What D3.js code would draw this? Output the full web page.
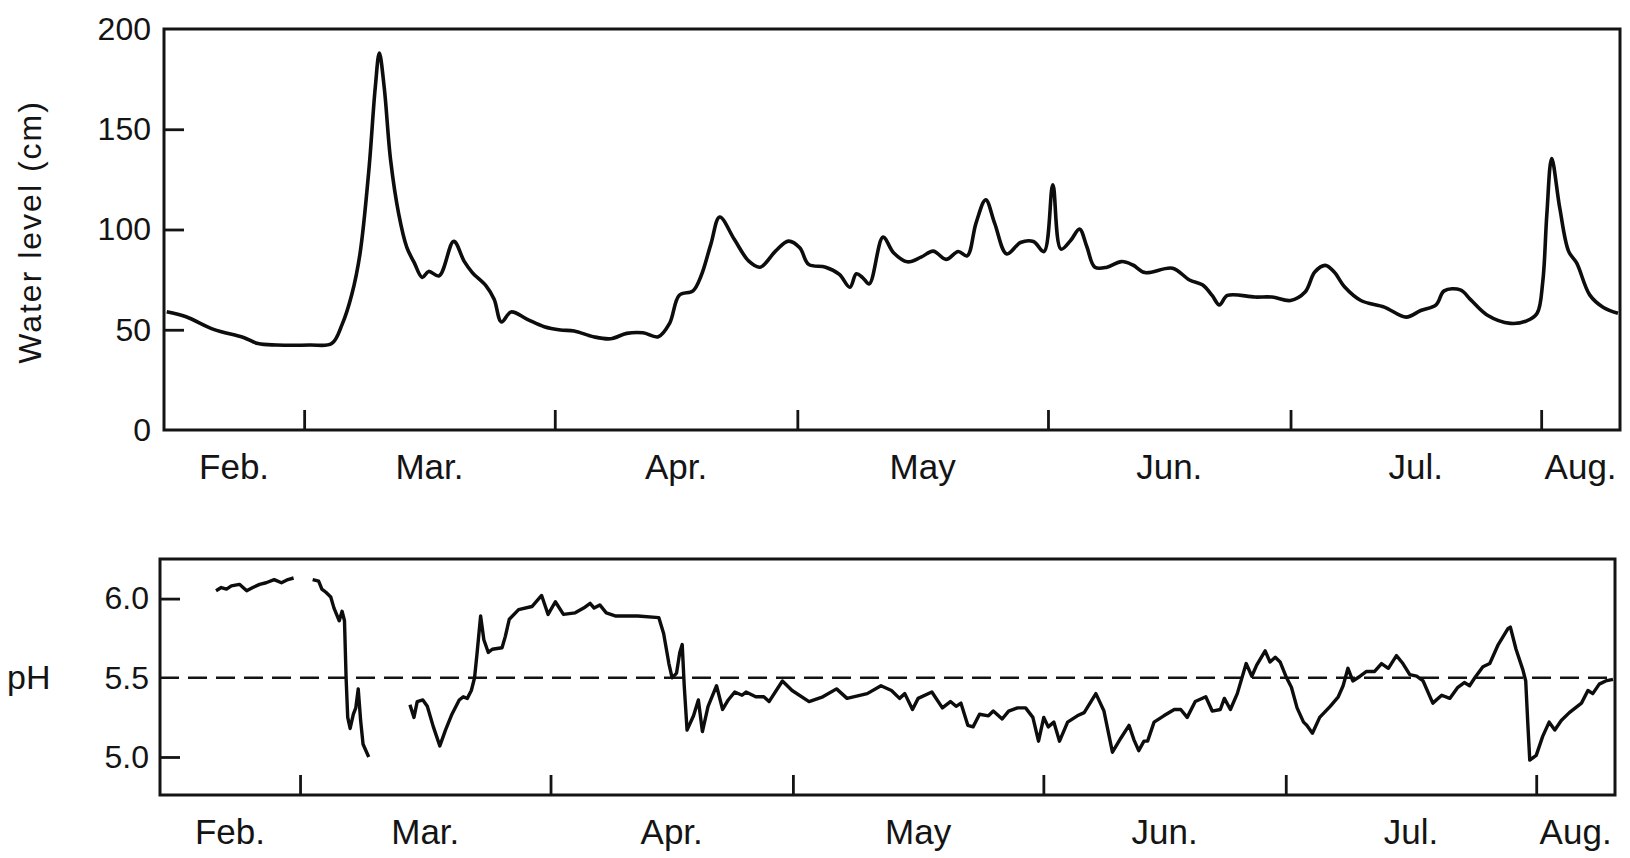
<!DOCTYPE html>
<html>
<head>
<meta charset="utf-8">
<script src="https://cdn.jsdelivr.net/npm/d3@7"></script>
<style>
  body { margin: 0; background: #fff; }
  svg { display: block; }
  text { font-family: "Liberation Sans", Arial, Helvetica, sans-serif; fill: #141414; }
</style>
</head>
<body>
<div id="chart"></div>
<script>
// day of year (1979) -> value
const levelData = [
  [43,59],[45.4,56.5],[48.8,50.2],[52.5,46.1],[54.3,43.1],[56.6,42.4],[60.7,42.4],[63.4,43.1],
  [64.7,52.7],[65.9,67.7],[66.9,87.7],[68.0,129.4],[68.8,171],[69.3,188],[69.9,171],[70.7,134.4],
  [71.7,107.7],[72.7,91.1],[73.6,83.6],[74.6,76.1],[75.4,79.1],[76.7,76.9],[78.5,94.1],[79.8,84.1],
  [80.8,78.5],[82.5,71.9],[83.5,65.2],[84.4,53.9],[85.6,58.9],[87.6,55.2],[89.7,51.5],[91.7,49.9],
  [93.4,49.4],[95.8,46.5],[97.9,45.5],[99.9,48.2],[101.9,48.5],[103.8,46.5],[105.2,53.2],[106.4,67.2],
  [108.1,69.4],[109.1,76.9],[110.3,92.6],[111.4,106.2],[113.2,95.1],[115,84.2],[116.4,81.2],[118.3,89.2],
  [119.9,94.2],[121.3,90.9],[122.4,82.6],[124.5,81.2],[126.2,77.6],[127.5,71.2],[128.3,77.9],[129.1,75.9],
  [129.9,72.9],[131.6,96.2],[132.9,88.4],[134.6,83.9],[136.3,86.2],[137.8,89.2],[139.4,85.1],[140.9,89],
  [142,86.8],[143.1,103.2],[144.3,114.8],[145.4,103.2],[146.9,87.8],[148.6,93.5],[150.2,94],[151.5,89],
  [152.6,122.3],[153.6,90.2],[154.8,94.5],[155.9,100.2],[156.8,91.5],[157.8,81.2],[159.3,81.2],[161.1,84],
  [162.5,82.3],[164,78.5],[167.4,80.7],[169.5,74.8],[171.1,72.4],[172.3,67.1],[173.2,62.4],[174.2,67.1],
  [177.6,66.3],[179.7,66.3],[182,64.6],[183.8,68.8],[185,78.8],[186.3,82.1],[187.4,78.8],[188.7,71.3],
  [190.7,64.6],[193.6,61.3],[196.3,56.3],[198.1,59.6],[200,62.4],[201,69.4],[203,69.9],[204.3,64.9],
  [206.3,57.4],[209.2,53.2],[211.2,54.4],[212.5,58.2],[213.2,74.1],[213.7,107.4],[214.3,135.4],[215.3,110.7],
  [216.4,89.1],[217.4,83.2],[219,67.4],[220.7,61.1],[222.5,58.2]
];

// pH record, null = gap in the record
const phData = [
  [49.6,6.05],[50.25,6.07],[50.9,6.06],[51.5,6.08],[52.5,6.09],[53.4,6.05],[54.15,6.07],[55,6.09],
  [55.8,6.10],[56.8,6.12],[57.7,6.10],[58.5,6.12],[59.2,6.13],
  [60.4,null],
  [61.56,6.12],[62.3,6.11],[62.7,6.06],[63.2,6.04],[63.8,6.01],[64.2,5.94],[64.85,5.86],[65.2,5.92],
  [65.5,5.86],[65.7,5.50],[65.9,5.25],[66.2,5.18],[66.6,5.27],[66.9,5.31],[67.2,5.43],[67.5,5.23],
  [67.8,5.08],[68.5,5.00],
  [71,null],
  [73.6,5.33],[74.1,5.25],[74.5,5.35],[75.2,5.36],[75.75,5.32],[76.5,5.19],[77.3,5.07],[78,5.17],
  [78.8,5.27],[79.7,5.36],[80.2,5.38],[80.7,5.37],[81.2,5.42],[81.6,5.50],[81.9,5.65],[82.35,5.89],
  [82.75,5.74],[83.3,5.66],[83.8,5.68],[85,5.69],[85.4,5.76],[85.9,5.87],[87.05,5.93],[88.7,5.95],
  [89.9,6.02],[90.7,5.90],[91.6,5.98],[92.6,5.90],[94.05,5.91],[95.1,5.94],[95.9,5.97],[96.4,5.94],
  [97.1,5.96],[97.9,5.91],[99.1,5.89],[101.8,5.89],[104.4,5.88],[105.0,5.78],[105.65,5.59],[106.05,5.50],
  [106.6,5.53],[107.0,5.66],[107.3,5.71],[107.55,5.45],[107.9,5.17],[108.7,5.26],[109.3,5.36],[109.8,5.16],
  [110.5,5.32],[111.55,5.45],[112.3,5.30],[113.0,5.36],[113.8,5.41],[114.7,5.39],[115.2,5.41],[116.4,5.38],
  [117.4,5.38],[118.05,5.35],[119.7,5.48],[120.9,5.42],[123.0,5.35],[124.7,5.38],[126.4,5.43],[127.7,5.37],
  [130.2,5.40],[131.9,5.45],[133.2,5.42],[134.2,5.37],[134.85,5.40],[135.8,5.30],[136.5,5.37],[138.2,5.41],
  [139.5,5.31],[140.5,5.35],[141.2,5.32],[141.8,5.34],[142.65,5.20],[143.3,5.19],[144.1,5.27],[145.2,5.26],
  [145.8,5.29],[146.9,5.24],[147.7,5.29],[148.8,5.31],[149.8,5.31],[150.7,5.25],[151.4,5.10],[152.05,5.25],
  [152.6,5.19],[153.3,5.22],[154.0,5.10],[155.0,5.22],[156.2,5.26],[157.05,5.28],[158.5,5.40],[159.5,5.29],
  [160.55,5.03],[161.6,5.12],[162.6,5.20],[163.2,5.11],[163.8,5.04],[164.45,5.10],[164.9,5.10],[165.7,5.22],
  [166.9,5.26],[168.2,5.30],[169.0,5.30],[169.8,5.25],[170.8,5.35],[172.1,5.38],[172.9,5.29],[173.9,5.30],
  [174.4,5.37],[175.15,5.30],[176.0,5.40],[177.1,5.59],[177.8,5.51],[178.4,5.58],[179.45,5.67],[180.05,5.60],
  [180.7,5.63],[181.3,5.60],[182.1,5.50],[182.7,5.44],[183.4,5.31],[184.2,5.22],[184.6,5.20],[185.3,5.15],
  [186.2,5.25],[187.5,5.32],[188.5,5.38],[189.1,5.45],[189.7,5.56],[190.3,5.48],[191.2,5.51],[192.0,5.54],
  [193.0,5.54],[193.85,5.59],[194.7,5.56],[195.7,5.64],[196.5,5.59],[197.35,5.52],[198.2,5.51],[199.0,5.48],
  [200.2,5.34],[201.3,5.39],[202.3,5.37],[203.3,5.44],[204.1,5.47],[204.75,5.45],[205.4,5.50],[206.4,5.57],
  [207.25,5.59],[208.3,5.71],[209.5,5.81],[209.8,5.82],[210.5,5.68],[211.35,5.55],[211.7,5.48],[211.95,5.22],
  [212.2,4.98],[213.0,5.01],[213.8,5.13],[214.6,5.22],[215.3,5.17],[216.1,5.23],[217.1,5.28],[218.6,5.34],
  [219.4,5.42],[220.0,5.40],[220.8,5.46],[221.6,5.48],[222.5,5.49]
];

const monthLabels = ['Feb.', 'Mar.', 'Apr.', 'May', 'Jun.', 'Jul.', 'Aug.'];
const levelTicks = [0, 50, 100, 150, 200];
const phTicks = [5.0, 5.5, 6.0];
const phReference = 5.5;

const year_start = new Date(1979, 0, 1);
const toDate = doy => new Date(year_start.getTime() + (doy - 1) * 864e5);
const date_domain = [new Date(1979, 1, 11, 16), new Date(1979, 7, 10, 18)];
const month_starts = d3.range(2, 8).map(m => new Date(1979, m, 1));
const month_bounds = [date_domain[0], ...month_starts, date_domain[1]];

const W = 1630, H = 858;
const ink = '#141414';
const svg = d3.select('#chart').append('svg').attr('width', W).attr('height', H);

function drawPanel(opts){
  const xScale = d3.scaleTime(date_domain, [opts.left, opts.right]);
  const yScale = d3.scaleLinear(opts.yDomain, [opts.bottom, opts.top]);
  const g = svg.append('g');

  // y labels (outside, no tick)
  g.append('g').attr('transform', `translate(${opts.left},0)`)
    .call(d3.axisLeft(yScale).tickValues(opts.labels).tickSize(0).tickPadding(opts.labelPad).tickFormat(opts.fmt))
    .call(a => a.select('.domain').remove())
    .call(a => a.selectAll('text').attr('font-size', 32).attr('font-family', null).attr('fill', ink));

  // inner y ticks
  g.append('g').attr('transform', `translate(${opts.left},0)`)
    .call(d3.axisRight(yScale).tickValues(opts.innerTicks).tickSize(20).tickFormat(''))
    .call(a => a.select('.domain').remove())
    .call(a => a.selectAll('line').attr('stroke', ink).attr('stroke-width', 2.8));

  // month boundaries, ticks pointing up from the base line
  g.append('g').attr('transform', `translate(0,${opts.bottom})`)
    .call(d3.axisTop(xScale).tickValues(month_starts).tickSize(20).tickFormat(''))
    .call(a => a.select('.domain').remove())
    .call(a => a.selectAll('line').attr('stroke', ink).attr('stroke-width', 2.8));

  // month names centred between boundaries
  g.append('g').selectAll('text').data(monthLabels).join('text')
    .attr('x', (d, i) => (xScale(month_bounds[i]) + xScale(month_bounds[i + 1])) / 2)
    .attr('y', opts.monthY)
    .attr('text-anchor', 'middle')
    .attr('font-size', 35)
    .text(d => d);

  g.append('rect')
    .attr('x', opts.left).attr('y', opts.top)
    .attr('width', opts.right - opts.left).attr('height', opts.bottom - opts.top)
    .attr('fill', 'none').attr('stroke', ink).attr('stroke-width', 3);

  return {g, xScale, yScale};
}

// water level panel
const top_panel = drawPanel({
  left: 164, right: 1620, top: 29, bottom: 430,
  yDomain: [0, 200], labels: levelTicks, innerTicks: [50, 100, 150],
  labelPad: 13, fmt: d3.format('d'), monthY: 479
});

top_panel.g.append('text')
  .attr('transform', 'translate(41,232) rotate(-90)')
  .attr('text-anchor', 'middle')
  .attr('font-size', 32)
  .attr('letter-spacing', 2)
  .text('Water level (cm)');

const level_line = d3.line()
  .x(d => top_panel.xScale(toDate(d[0])))
  .y(d => top_panel.yScale(d[1]))
  .curve(d3.curveCatmullRom.alpha(0.5));

top_panel.g.append('path')
  .attr('d', level_line(levelData))
  .attr('fill', 'none').attr('stroke', '#0d0d0d').attr('stroke-width', 3.6)
  .attr('stroke-linejoin', 'round');

// pH panel
const ph_panel = drawPanel({
  left: 160, right: 1615, top: 559, bottom: 795,
  yDomain: [4.76, 6.25], labels: phTicks, innerTicks: [5.0, 6.0],
  labelPad: 11, fmt: d3.format('.1f'), monthY: 844
});

ph_panel.g.append('text')
  .attr('x', 7).attr('y', 689)
  .attr('font-size', 34)
  .text('pH');

ph_panel.g.append('line')
  .attr('x1', ph_panel.xScale.range()[0]).attr('x2', ph_panel.xScale.range()[1])
  .attr('y1', ph_panel.yScale(phReference)).attr('y2', ph_panel.yScale(phReference))
  .attr('stroke', ink).attr('stroke-width', 2.6).attr('stroke-dasharray', '19 9');

const ph_line = d3.line()
  .defined(d => d[1] != null)
  .x(d => ph_panel.xScale(toDate(d[0])))
  .y(d => ph_panel.yScale(d[1]));

ph_panel.g.append('path')
  .attr('d', ph_line(phData))
  .attr('fill', 'none').attr('stroke', '#0d0d0d').attr('stroke-width', 3.4)
  .attr('stroke-linejoin', 'round');
</script>
</body>
</html>
